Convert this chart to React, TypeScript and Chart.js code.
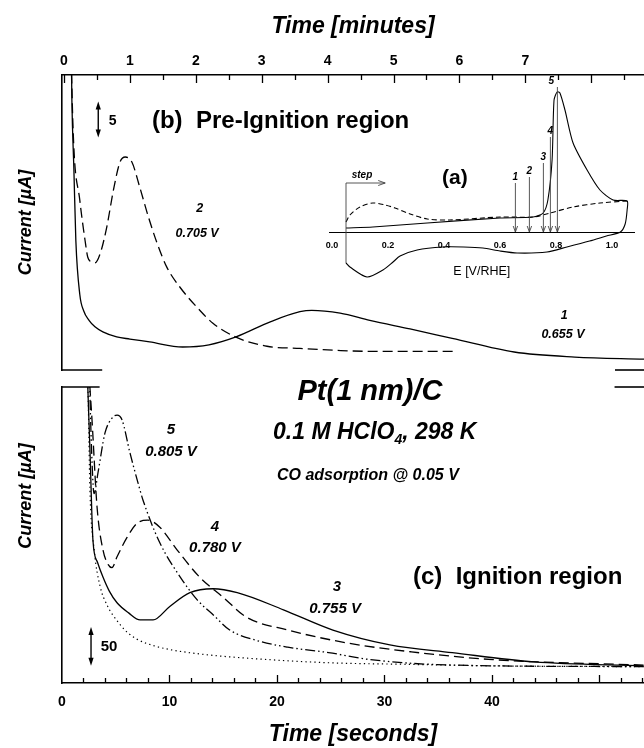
import React, { useEffect, useRef } from 'react';
import { Chart, registerables } from 'chart.js';

Chart.register(...registerables);

const FONT = '"Liberation Sans", Arial, Helvetica, sans-serif';
Chart.defaults.font.family = FONT;
Chart.defaults.color = '#000';

// ---------- Panel (b): pre-ignition region (time in minutes, current in µA) ----------
const minuteTickLabels = [0, 1, 2, 3, 4, 5, 6, 7];
const curve1Minutes = [0.09, 0.12, 0.15, 0.18, 0.24, 0.3, 0.38, 0.47, 0.59, 0.8, 1.0, 1.3, 1.8, 2.2, 2.61, 3.13, 3.58, 3.76, 4.19, 4.64, 5.25, 5.89, 6.83, 7.75, 8.8];
const curve1Current = [60, 37.5, 28, 18, 10.5, 8.2, 6.9, 6.0, 5.3, 4.6, 4.3, 3.9, 3.2, 3.5, 4.6, 6.7, 8.1, 8.3, 7.9, 6.9, 5.7, 4.4, 2.5, 1.8, 1.5];
const curve2Minutes = [0.07, 0.14, 0.24, 0.32, 0.36, 0.42, 0.47, 0.55, 0.65, 0.75, 0.85, 0.93, 1.03, 1.15, 1.28, 1.41, 1.56, 1.76, 2.06, 2.26, 2.6, 3.08, 3.58, 4.2, 4.64, 5.95];
const curve2Current = [60, 33, 23.6, 18, 15.7, 15.0, 14.9, 16.2, 19.9, 25, 28.9, 29.6, 28.9, 25.4, 21.3, 17.7, 14.3, 11.5, 8.3, 6.5, 4.6, 3.3, 3.0, 2.7, 2.6, 2.6];

// ---------- Panel (c): ignition region (time in seconds, current in µA) ----------
const secondTickLabels = [0, 10, 20, 30, 40];
const curve3Seconds = [2.3, 2.6, 2.88, 3.3, 3.81, 4.4, 5.12, 6.2, 7.26, 8.47, 10.0, 11.9, 14.05, 16.3, 20.6, 25.2, 30.5, 36.3, 43.9, 54.1];
const curve3Current = [420, 299, 183, 155, 136, 118, 103, 90, 81, 81, 98, 116, 121, 116, 94, 68, 49, 39, 27, 22];
const curve4Seconds = [2.4, 2.79, 3.26, 3.81, 4.3, 4.65, 5.12, 6.05, 6.98, 8.0, 9.1, 10.7, 12.8, 15.0, 17.1, 21.0, 26.7, 32.5, 40.1, 54.1];
const curve4Current = [420, 338, 226, 171, 152, 148, 162, 187, 205, 209, 200, 171, 136, 110, 85, 68, 51, 40, 30, 23];
const curve5Seconds = [2.5, 2.75, 2.98, 3.35, 4.0, 4.65, 5.12, 5.58, 6.33, 7.07, 7.53, 9.1, 11.0, 12.56, 14.1, 15.6, 18.0, 21.0, 24.8, 28.7, 36.3, 54.1];
const curve5Current = [420, 300, 243, 270, 321, 340, 344, 338, 295, 257, 235, 180, 136, 107, 87, 68, 55, 46, 39, 30, 23, 21];
const baselineSeconds = [2.3, 2.42, 2.6, 3.0, 3.53, 4.19, 5.12, 6.0, 7.0, 8.5, 10.0, 13.0, 17.1, 24.8, 32.0, 40.1, 54.1];
const baselineCurrent = [420, 376, 248, 170, 125, 100, 80, 66, 56, 48, 43, 37, 32, 26, 24, 22, 21];

// ---------- Inset (a): CO stripping voltammogram (E in V/RHE, current in arb. units) ----------
const cvStripE = [0.05, 0.146, 0.34, 0.6, 0.718, 0.754, 0.771, 0.786, 0.793, 0.804, 0.814, 0.832, 0.861, 0.911, 0.957, 1.004, 1.054, 1.054, 1.047, 1.03, 0.98, 0.92, 0.839, 0.768, 0.661, 0.6, 0.539, 0.47, 0.396, 0.304, 0.243, 0.218, 0.182, 0.125, 0.064, 0.05];
const cvStripI = [4, 5, 9, 14, 15, 19, 32, 72, 132, 140, 139, 122, 89, 62, 42, 32, 31, 22, 8, 0, -4, -9, -15, -20, -21, -19, -16, -15, -15, -18, -24, -30, -38, -45, -35, -31];
const cvBlankE = [0.05, 0.064, 0.1, 0.146, 0.19, 0.225, 0.279, 0.34, 0.42, 0.6, 0.718, 0.779, 0.861, 0.957, 1.054];
const cvBlankI = [10, 17, 25, 29, 27, 24, 18, 13, 12, 15, 15, 19, 25, 29, 31];
const stepPotentials = [0.655, 0.705, 0.755, 0.78, 0.805];
const stepLabels = ['1', '2', '3', '4', '5'];

// annotation placement (inset arrow tops, in inset current units)
const insetArrowTops = [49, 55, 69, 95, 145];

const pts = (xs: number[], ys: number[]) => xs.map((x, i) => ({ x, y: ys[i] }));
const BI = (s: number) => `italic bold ${s}px ${FONT}`;
const B = (s: number) => `bold ${s}px ${FONT}`;

function text(ctx: CanvasRenderingContext2D, str: string, x: number, y: number, font: string, align: CanvasTextAlign = 'center') {
  ctx.save();
  ctx.font = font;
  ctx.fillStyle = '#000';
  ctx.textAlign = align;
  ctx.textBaseline = 'middle';
  ctx.fillText(str, x, y);
  ctx.restore();
}
function line(ctx: CanvasRenderingContext2D, x1: number, y1: number, x2: number, y2: number) {
  ctx.beginPath();
  ctx.moveTo(x1, y1);
  ctx.lineTo(x2, y2);
  ctx.stroke();
}
function head(ctx: CanvasRenderingContext2D, x: number, y: number, ang: number, len: number, hw: number, filled: boolean) {
  ctx.save();
  ctx.translate(x, y);
  ctx.rotate(ang);
  ctx.beginPath();
  ctx.moveTo(-len, -hw);
  ctx.lineTo(0, 0);
  ctx.lineTo(-len, hw);
  if (filled) {
    ctx.closePath();
    ctx.fill();
  } else ctx.stroke();
  ctx.restore();
}
function doubleArrow(ctx: CanvasRenderingContext2D, x: number, yTop: number, yBot: number) {
  ctx.save();
  ctx.strokeStyle = '#000';
  ctx.fillStyle = '#000';
  ctx.lineWidth = 1.4;
  line(ctx, x, yTop + 4, x, yBot - 4);
  head(ctx, x, yTop, -Math.PI / 2, 8, 2.6, true);
  head(ctx, x, yBot, Math.PI / 2, 8, 2.6, true);
  ctx.restore();
}

function inwardTicks(id: string, dir: number, majorEvery: number, majorLen: number, minorLen: number) {
  return {
    id,
    afterDraw(chart: any) {
      const s = chart.scales.x;
      const ctx = chart.ctx;
      const y0 = dir > 0 ? chart.chartArea.top : chart.chartArea.bottom;
      ctx.save();
      ctx.strokeStyle = '#000';
      ctx.lineWidth = 1.3;
      for (const t of s.ticks) {
        const r = t.value / majorEvery;
        const major = Math.abs(r - Math.round(r)) < 1e-6;
        const x = Math.round(s.getPixelForValue(t.value)) + 0.5;
        if (x <= chart.chartArea.left + 1) continue;
        line(ctx, x, y0, x, y0 + dir * (major ? majorLen : minorLen));
      }
      ctx.restore();
    },
  };
}

const panelBNotes = {
  id: 'panelBNotes',
  afterDraw(chart: any) {
    const { ctx, chartArea } = chart;
    const X = (v: number) => chart.scales.x.getPixelForValue(v);
    const Y = (v: number) => chart.scales.y.getPixelForValue(v);
    ctx.save();
    ctx.strokeStyle = '#000';
    ctx.lineWidth = 1.6;
    line(ctx, chartArea.left - 0.8, chartArea.bottom, X(0.58), chartArea.bottom);
    line(ctx, X(8.36), chartArea.bottom, chartArea.right, chartArea.bottom);
    ctx.restore();
    doubleArrow(ctx, X(0.52), Y(37.3), Y(32.3));
    text(ctx, '5', X(0.74), Y(34.6), B(14));
    text(ctx, '(b)  Pre-Ignition region', X(1.335), Y(34.6), B(24), 'left');
    text(ctx, '2', X(2.06), Y(22.5), BI(12.5));
    text(ctx, '0.705 V', X(2.02), Y(19.0), BI(12.5));
    text(ctx, '1', X(7.59), Y(7.6), BI(12.5));
    text(ctx, '0.655 V', X(7.57), Y(4.9), BI(12.5));
  },
};

const panelCNotes = {
  id: 'panelCNotes',
  afterDraw(chart: any) {
    const { ctx, chartArea } = chart;
    const X = (v: number) => chart.scales.x.getPixelForValue(v);
    const Y = (v: number) => chart.scales.y.getPixelForValue(v);
    ctx.save();
    ctx.strokeStyle = '#000';
    ctx.lineWidth = 1.6;
    line(ctx, chartArea.left - 0.8, chartArea.top, X(3.5), chartArea.top);
    line(ctx, X(51.4), chartArea.top, chartArea.right, chartArea.top);
    ctx.restore();
    // y-axis title
    ctx.save();
    ctx.translate(26, Y(240));
    ctx.rotate(-Math.PI / 2);
    text(ctx, 'Current [µA]', 0, 0, BI(18));
    ctx.restore();
    doubleArrow(ctx, X(2.7), Y(72), Y(22));
    text(ctx, '50', X(4.37), Y(46.2), B(15));
    text(ctx, 'Pt(1 nm)/C', X(28.65), Y(373), BI(29));
    // 0.1 M HClO4, 298 K
    ctx.save();
    const x0 = X(19.63);
    const y0 = Y(321);
    ctx.font = BI(23);
    ctx.fillStyle = '#000';
    ctx.textBaseline = 'middle';
    ctx.textAlign = 'left';
    let xx = x0;
    ctx.fillText('0.1 M HClO', xx, y0);
    xx += ctx.measureText('0.1 M HClO').width;
    ctx.font = BI(14);
    ctx.fillText('4', xx, y0 + 7);
    xx += ctx.measureText('4').width;
    ctx.font = BI(23);
    ctx.fillText(', 298 K', xx, y0);
    ctx.restore();
    text(ctx, 'CO adsorption @ 0.05 V', X(20.0), Y(265.7), BI(16), 'left');
    text(ctx, '5', X(10.14), Y(324.8), BI(15));
    text(ctx, '0.805 V', X(10.14), Y(296.5), BI(15));
    text(ctx, '4', X(14.23), Y(200), BI(15));
    text(ctx, '0.780 V', X(14.23), Y(173.3), BI(15));
    text(ctx, '3', X(25.58), Y(123), BI(15));
    text(ctx, '0.755 V', X(25.4), Y(95), BI(15));
    text(ctx, '(c)  Ignition region', X(32.65), Y(136), B(24), 'left');
  },
};

const insetNotes = {
  id: 'insetNotes',
  afterDraw(chart: any) {
    const { ctx } = chart;
    const X = (v: number) => chart.scales.x.getPixelForValue(v);
    const Y = (v: number) => chart.scales.y.getPixelForValue(v);
    ctx.save();
    ctx.strokeStyle = '#444';
    ctx.fillStyle = '#444';
    ctx.lineWidth = 0.9;
    line(ctx, X(0.05), Y(49), X(0.05), Y(-31));
    line(ctx, X(0.05), Y(49), X(0.19), Y(49));
    head(ctx, X(0.19), Y(49), 0, 7, 2.5, false);
    stepPotentials.forEach((E, k) => {
      line(ctx, X(E), Y(insetArrowTops[k]), X(E), Y(0));
      head(ctx, X(E), Y(0), Math.PI / 2, 6, 2.2, false);
    });
    ctx.restore();
    text(ctx, 'step', X(0.107), Y(57), BI(10));
    text(ctx, '(a)', X(0.439), Y(54), B(21));
    stepPotentials.forEach((E, k) => {
      const dx = k === 4 ? -6 : 0;
      text(ctx, stepLabels[k], X(E) + dx, Y(insetArrowTops[k]) - 6, BI(10));
    });
  },
};

function lineSet(label: string, data: any[], dash: number[], width = 1.3) {
  return {
    label,
    data,
    borderColor: '#000',
    borderWidth: width,
    borderDash: dash,
    pointRadius: 0,
    fill: false,
    cubicInterpolationMode: 'monotone',
  };
}

export default function App() {
  const refA = useRef<HTMLCanvasElement>(null);
  const refB = useRef<HTMLCanvasElement>(null);
  const refC = useRef<HTMLCanvasElement>(null);

  useEffect(() => {
    const noPlug = { legend: { display: false }, tooltip: { enabled: false } };
    const chartA = new Chart(refA.current as HTMLCanvasElement, {
      type: 'line',
      data: {
        datasets: [
          lineSet('1: 0.655 V', pts(curve1Minutes, curve1Current), []),
          lineSet('2: 0.705 V', pts(curve2Minutes, curve2Current), [10, 5]),
        ] as any,
      },
      options: {
        responsive: false,
        animation: false,
        devicePixelRatio: 1,
        events: [],
        layout: { padding: { top: 0, left: 0, right: 0, bottom: 10 } },
        plugins: noPlug as any,
        scales: {
          x: {
            type: 'linear',
            position: 'top',
            min: -0.03,
            max: 8.8,
            ticks: {
              stepSize: 0.5,
              maxTicksLimit: 1000,
              includeBounds: false,
              autoSkip: false,
              maxRotation: 0,
              padding: 0,
              color: '#000',
              font: { size: 14, weight: 'bold' },
              callback: (v: any) => {
                const r = Math.round(Number(v));
                return Math.abs(Number(v) - r) < 1e-6 && minuteTickLabels.includes(r) ? String(r) : '';
              },
            },
            grid: { display: false, drawTicks: true, tickLength: 5 },
            border: { display: true, color: '#000', width: 1.6 },
            title: {
              display: true,
              text: 'Time [minutes]',
              color: '#000',
              font: { size: 23, weight: 'bold', style: 'italic' },
              padding: { top: 13, bottom: 0 },
            },
            afterFit: (s: any) => {
              s.height = 75;
            },
          },
          y: {
            type: 'linear',
            min: 0,
            max: 41,
            ticks: { display: false },
            grid: { display: false, drawTicks: false },
            border: { display: true, color: '#000', width: 1.6 },
            title: {
              display: true,
              text: 'Current [µA]',
              color: '#000',
              font: { size: 18, weight: 'bold', style: 'italic' },
              padding: { top: 15, bottom: 0 },
            },
            afterFit: (s: any) => {
              s.width = 62;
            },
          },
        } as any,
      },
      plugins: [inwardTicks('ticksA', 1, 1, 8, 5), panelBNotes],
    });

    const chartB = new Chart(refB.current as HTMLCanvasElement, {
      type: 'line',
      data: {
        datasets: [
          lineSet('3: 0.755 V', pts(curve3Seconds, curve3Current), []),
          lineSet('4: 0.780 V', pts(curve4Seconds, curve4Current), [10, 5]),
          lineSet('5: 0.805 V', pts(curve5Seconds, curve5Current), [10, 3, 1.5, 3, 1.5, 3]),
          lineSet('baseline', pts(baselineSeconds, baselineCurrent), [1.3, 3.2], 1.2),
        ] as any,
      },
      options: {
        responsive: false,
        animation: false,
        devicePixelRatio: 1,
        events: [],
        layout: { padding: { top: 27, left: 0, right: 0, bottom: 0 } },
        plugins: noPlug as any,
        scales: {
          x: {
            type: 'linear',
            position: 'bottom',
            min: 0,
            max: 54.14,
            ticks: {
              stepSize: 2,
              maxTicksLimit: 1000,
              includeBounds: false,
              autoSkip: false,
              maxRotation: 0,
              padding: 0,
              color: '#000',
              font: { size: 14, weight: 'bold' },
              callback: (v: any) => {
                const r = Math.round(Number(v));
                return Math.abs(Number(v) - r) < 1e-6 && secondTickLabels.includes(r) ? String(r) : '';
              },
            },
            grid: { display: false, drawTicks: true, tickLength: 10.6 },
            border: { display: true, color: '#000', width: 1.6 },
            title: {
              display: true,
              text: 'Time [seconds]',
              color: '#000',
              font: { size: 23, weight: 'bold', style: 'italic' },
              padding: { top: 0, bottom: 0 },
            },
            afterFit: (s: any) => {
              s.height = 65;
            },
          },
          y: {
            type: 'linear',
            min: 0,
            max: 380,
            ticks: { display: false },
            grid: { display: false, drawTicks: false },
            border: { display: true, color: '#000', width: 1.6 },
            afterFit: (s: any) => {
              s.width = 62;
            },
          },
        } as any,
      },
      plugins: [inwardTicks('ticksB', -1, 10, 8, 5), panelCNotes],
    });

    const chartC = new Chart(refC.current as HTMLCanvasElement, {
      type: 'line',
      data: {
        datasets: [
          { ...lineSet('CO stripping', pts(cvStripE, cvStripI), [], 1.1), cubicInterpolationMode: 'default', tension: 0.25 },
          { ...lineSet('blank', pts(cvBlankE, cvBlankI), [5, 3], 1.1), cubicInterpolationMode: 'default', tension: 0.3 },
        ] as any,
      },
      options: {
        responsive: false,
        animation: false,
        devicePixelRatio: 1,
        events: [],
        layout: { padding: { top: 10, left: 29.2, right: 9.6, bottom: 15 } },
        plugins: noPlug as any,
        scales: {
          x: {
            type: 'linear',
            position: { y: 0 },
            min: -0.01,
            max: 1.08,
            ticks: {
              stepSize: 0.2,
              maxTicksLimit: 1000,
              includeBounds: false,
              autoSkip: false,
              maxRotation: 0,
              padding: 8,
              color: '#000',
              font: { size: 9, weight: 'bold' },
              callback: (v: any) => Number(v).toFixed(1),
            },
            grid: { display: false, drawTicks: false },
            border: { display: true, color: '#000', width: 1 },
            title: {
              display: true,
              text: 'E [V/RHE]',
              color: '#000',
              font: { size: 12.5 },
              padding: { top: 0, bottom: 0 },
            },
            afterFit: (s: any) => {
              s.height = 47.2;
            },
          },
          y: { type: 'linear', display: false, min: -53, max: 152 },
        } as any,
      },
      plugins: [insetNotes],
    });

    return () => {
      chartA.destroy();
      chartB.destroy();
      chartC.destroy();
    };
  }, []);

  return (
    <div style={{ position: 'absolute', left: 0, top: 0, width: 644, height: 748, background: '#fff', overflow: 'hidden' }}>
      <canvas ref={refA} width={644} height={380} style={{ position: 'absolute', left: 0, top: 0 }} />
      <canvas ref={refB} width={644} height={388} style={{ position: 'absolute', left: 0, top: 360 }} />
      <canvas ref={refC} width={344} height={230} style={{ position: 'absolute', left: 300, top: 70 }} />
    </div>
  );
}
